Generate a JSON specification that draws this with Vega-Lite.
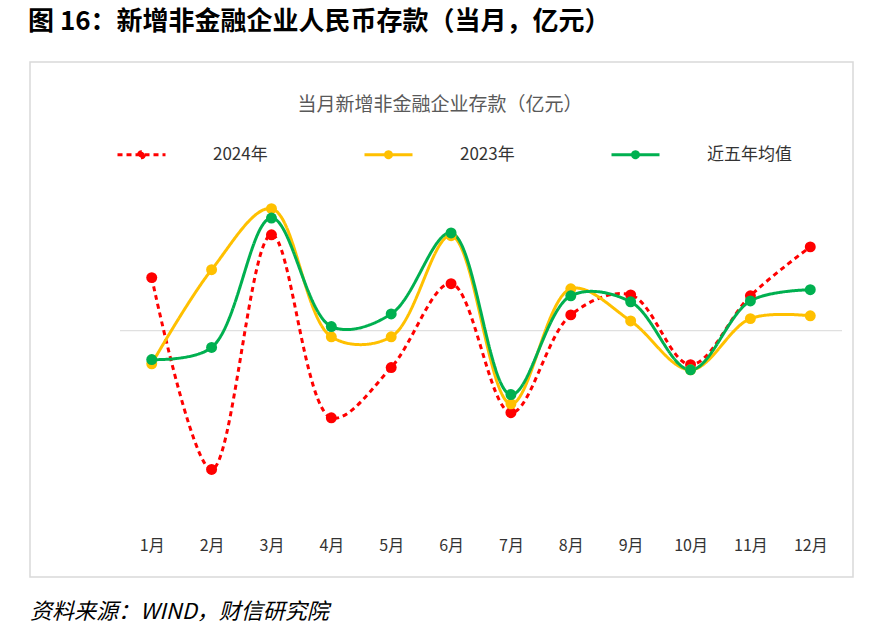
{
  "$schema": "https://vega.github.io/schema/vega-lite/v6.json",
  "autosize": "none",
  "width": 722,
  "height": 326,
  "padding": {"left": 120, "top": 191, "right": 50, "bottom": 120},
  "background": "white",
  "config": {"view": {"stroke": null}, "font": "Noto Sans CJK SC"},
  "datasets": {"one": [{"k": 1}]},
  "data": {"values": [
    {"m":"1月","s":"2024年","v":11400},{"m":"2月","s":"2024年","v":-29800},{"m":"3月","s":"2024年","v":20600},{"m":"4月","s":"2024年","v":-18700},{"m":"5月","s":"2024年","v":-7900},{"m":"6月","s":"2024年","v":10100},{"m":"7月","s":"2024年","v":-17600},{"m":"8月","s":"2024年","v":3400},{"m":"9月","s":"2024年","v":7700},{"m":"10月","s":"2024年","v":-7300},{"m":"11月","s":"2024年","v":7500},{"m":"12月","s":"2024年","v":18000},
    {"m":"1月","s":"2023年","v":-7100},{"m":"2月","s":"2023年","v":13100},{"m":"3月","s":"2023年","v":26200},{"m":"4月","s":"2023年","v":-1300},{"m":"5月","s":"2023年","v":-1300},{"m":"6月","s":"2023年","v":20400},{"m":"7月","s":"2023年","v":-15700},{"m":"8月","s":"2023年","v":9000},{"m":"9月","s":"2023年","v":2100},{"m":"10月","s":"2023年","v":-8400},{"m":"11月","s":"2023年","v":2600},{"m":"12月","s":"2023年","v":3200},
    {"m":"1月","s":"近五年均值","v":-6200},{"m":"2月","s":"近五年均值","v":-3600},{"m":"3月","s":"近五年均值","v":24200},{"m":"4月","s":"近五年均值","v":900},{"m":"5月","s":"近五年均值","v":3600},{"m":"6月","s":"近五年均值","v":21000},{"m":"7月","s":"近五年均值","v":-13700},{"m":"8月","s":"近五年均值","v":7500},{"m":"9月","s":"近五年均值","v":6200},{"m":"10月","s":"近五年均值","v":-8400},{"m":"11月","s":"近五年均值","v":6400},{"m":"12月","s":"近五年均值","v":8800}
  ]},
  "layer": [
    {"data": {"name": "one"}, "mark": {"type": "rect", "x": -90, "x2": 733, "y": -129, "y2": 386, "fill": null, "stroke": "#d9d9d9", "strokeWidth": 1.5}, "encoding": {}},
    {"data": {"name": "one"}, "mark": {"type": "rule", "color": "#d9d9d9"}, "encoding": {"y": {"datum": 0, "type": "quantitative", "scale": {"domain": [-40000, 30000]}, "axis": null}}},
    {
      "encoding": {
        "x": {"field": "m", "type": "ordinal", "sort": null, "scale": {"type": "point", "padding": 0.53},
          "axis": {"title": null, "domain": false, "ticks": false, "labelAngle": 0, "labelPadding": 20, "labelFontSize": 16, "labelColor": "#333"}},
        "y": {"field": "v", "type": "quantitative", "scale": {"domain": [-40000, 30000]},
          "axis": {"title": null, "grid": false, "values": [-40000,-30000,-20000,-10000,0,10000,20000,30000], "format": "d", "domainColor": "#888", "tickColor": "#888", "labelFontSize": 16, "labelColor": "#333", "labelPadding": 6}},
        "color": {"field": "s", "type": "nominal", "sort": null,
          "scale": {"domain": ["2024年","2023年","近五年均值"], "range": ["#ff0000","#ffc000","#00b050"]},
          "legend": {"title": null, "orient": "none", "legendX": 8, "legendY": -50, "direction": "horizontal", "columns": 3, "columnPadding": 90,
            "symbolType": "M-2,0H2M0.25,0A0.25,0.25 0 1,1 -0.25,0A0.25,0.25 0 1,1 0.25,0Z", "symbolSize": 576, "symbolStrokeWidth": 3,
            "labelFontSize": 17, "labelColor": "#333", "labelOffset": 58,
            "encode": {"symbols": {"update": {"strokeDash": {"signal": "datum.value === '2024年' ? [5,4] : [1,0]"}}}}}}
      },
      "layer": [
        {"mark": {"type": "line", "interpolate": "catmull-rom", "strokeWidth": 3}, "encoding": {"strokeDash": {"field": "s", "type": "nominal", "scale": {"domain": ["2024年","2023年","近五年均值"], "range": [[5,4],[1,0],[1,0]]}, "legend": null}}},
        {"mark": {"type": "point", "filled": true, "opacity": 1, "size": 120}}
      ]
    },
    {"data": {"name": "one"}, "mark": {"type": "text", "text": "当月新增非金融企业存款（亿元）", "x": 320, "y": -86, "fontSize": 19, "color": "#595959"}, "encoding": {}},
    {"data": {"name": "one"}, "mark": {"type": "text", "text": "图 16：新增非金融企业人民币存款（当月，亿元）", "x": -92, "y": -169, "align": "left", "fontSize": 26, "fontWeight": "bold", "color": "#000"}, "encoding": {}},
    {"data": {"name": "one"}, "mark": {"type": "rule", "x": -110, "x2": 755, "y": -146, "y2": -146, "strokeWidth": 3, "color": "#000"}, "encoding": {}},
    {"data": {"name": "one"}, "mark": {"type": "rule", "x": -110, "x2": 755, "y": 397, "y2": 397, "strokeWidth": 2, "color": "#000"}, "encoding": {}},
    {"data": {"name": "one"}, "mark": {"type": "text", "text": "资料来源：WIND，财信研究院", "x": -90, "y": 421, "align": "left", "fontSize": 22, "fontStyle": "italic", "color": "#000"}, "encoding": {}}
  ]
}
